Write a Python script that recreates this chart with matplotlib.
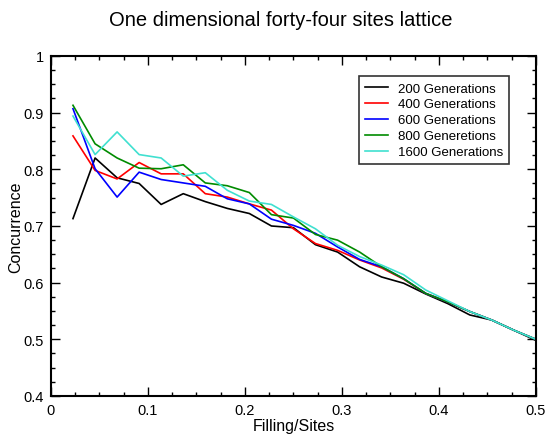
import numpy as np
import matplotlib
matplotlib.use("Agg")
import matplotlib.pyplot as plt
from matplotlib.ticker import MultipleLocator

plt.rcParams['font.family'] = ['Liberation Sans', 'DejaVu Sans']

# filling = particles / 44 sites
filling = [0.0227, 0.0455, 0.0682, 0.0909, 0.1136, 0.1364, 0.1591, 0.1818,
           0.2045, 0.2273, 0.25, 0.2727, 0.2955, 0.3182, 0.3409, 0.3636,
           0.3864, 0.4091, 0.4318, 0.4545, 0.4773, 0.5]

gen200 = [0.713, 0.820, 0.785, 0.775, 0.738, 0.757, 0.743, 0.731, 0.722, 0.700,
          0.697, 0.667, 0.654, 0.628, 0.610, 0.599, 0.580, 0.563, 0.543, 0.534,
          0.516, 0.498]
gen400 = [0.859, 0.798, 0.783, 0.812, 0.792, 0.792, 0.757, 0.751, 0.739, 0.728,
          0.695, 0.669, 0.657, 0.640, 0.626, 0.606, 0.581, 0.566, 0.549, 0.534,
          0.516, 0.500]
gen600 = [0.907, 0.801, 0.751, 0.795, 0.782, 0.776, 0.770, 0.748, 0.739, 0.712,
          0.701, 0.687, 0.663, 0.641, 0.628, 0.607, 0.581, 0.566, 0.549, 0.534,
          0.516, 0.500]
gen800 = [0.913, 0.845, 0.820, 0.802, 0.801, 0.808, 0.776, 0.771, 0.759, 0.720,
          0.714, 0.685, 0.675, 0.654, 0.628, 0.607, 0.581, 0.566, 0.549, 0.534,
          0.516, 0.500]
gen1600 = [0.894, 0.826, 0.866, 0.826, 0.820, 0.788, 0.794, 0.763, 0.744, 0.738,
           0.716, 0.695, 0.666, 0.646, 0.631, 0.614, 0.587, 0.568, 0.549, 0.534,
           0.516, 0.500]

series = [
    (gen200, "200 Generations", "black"),
    (gen400, "400 Generations", "#ff0000"),
    (gen600, "600 Generations", "#0000ff"),
    (gen800, "800 Generetions", "#008b00"),
    (gen1600, "1600 Generations", "#40e0d0"),
]

fig = plt.figure(figsize=(5.48, 4.35), dpi=100)
ax = fig.add_axes([0.093, 0.0874, 0.885, 0.7816])

for vals, name, col in series:
    ax.plot(filling, vals, color=col, lw=1.2, label=name)

ax.set_xlim(0, 0.5)
ax.set_ylim(0.4, 1.0)
ax.set_xticks([0, 0.1, 0.2, 0.3, 0.4, 0.5])
ax.set_yticks([0.4, 0.5, 0.6, 0.7, 0.8, 0.9, 1.0])
ax.set_xticklabels(["0", "0.1", "0.2", "0.3", "0.4", "0.5"])
ax.set_yticklabels(["0.4", "0.5", "0.6", "0.7", "0.8", "0.9", "1"])
ax.xaxis.set_minor_locator(MultipleLocator(0.025))
ax.yaxis.set_minor_locator(MultipleLocator(0.025))
ax.tick_params(which='both', direction='in', top=True, right=True, labelsize=10.5, pad=5)
ax.tick_params(which='major', length=6.5, width=1)
ax.tick_params(which='minor', length=3, width=1)
for s in ax.spines.values():
    s.set_linewidth(1.5)

ax.set_xlabel("Filling/Sites", fontsize=11.5, labelpad=1)
ax.set_ylabel("Concurrence", fontsize=11.5, labelpad=0.5)
fig.suptitle("One dimensional forty-four sites lattice", fontsize=14.5, x=0.512, y=0.975)

leg = ax.legend(loc='upper right', bbox_to_anchor=(0.944, 0.94), fontsize=9.5,
                frameon=True, fancybox=False, edgecolor='black', handlelength=1.8,
                labelspacing=0.28, borderpad=0.45, handletextpad=0.7,
                borderaxespad=0)
leg.get_frame().set_linewidth(1.2)

fig.savefig("out.png", dpi=100)
